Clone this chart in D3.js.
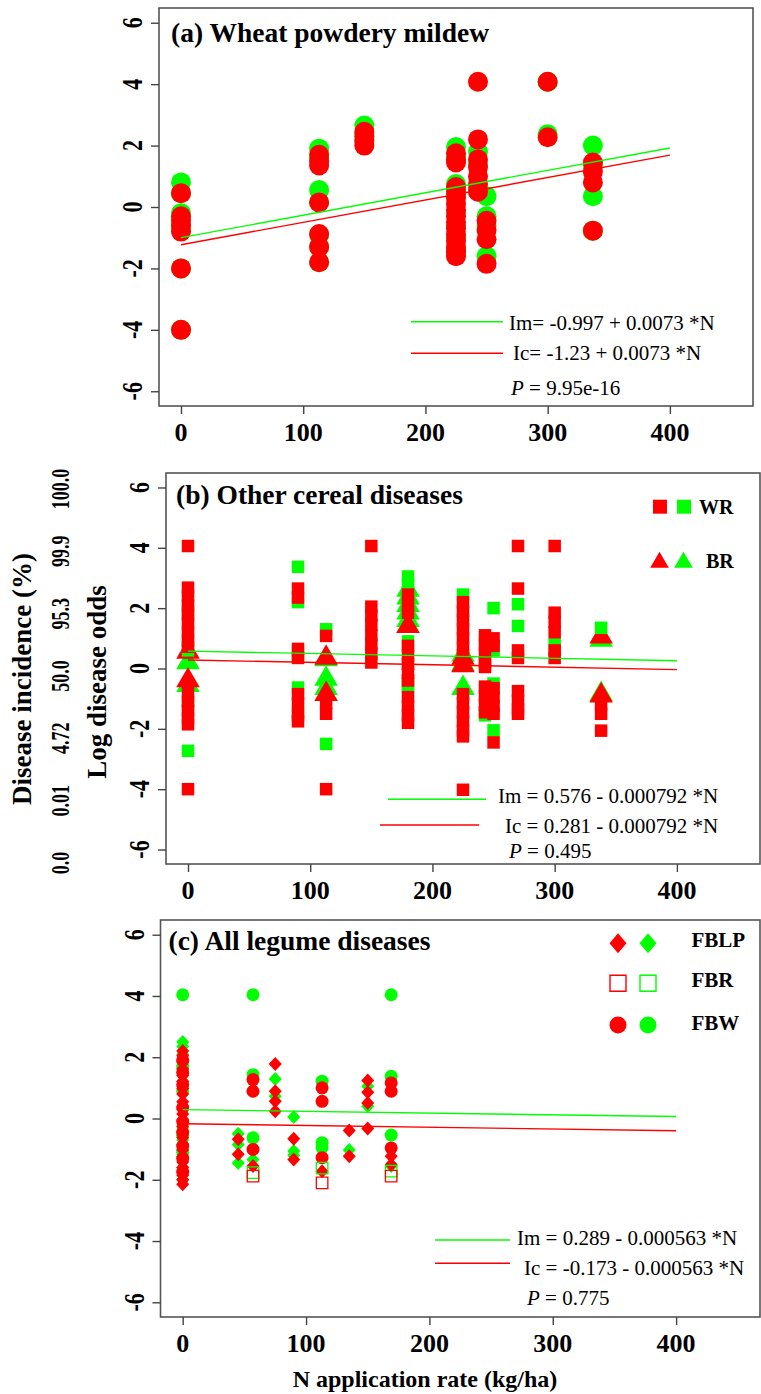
<!DOCTYPE html>
<html>
<head>
<meta charset="utf-8">
<script src="https://cdn.jsdelivr.net/npm/d3@7"></script>
<style>
  body { margin: 0; background: #fff; }
  svg { display: block; font-family: "Liberation Serif", "Times New Roman", serif; }
</style>
</head>
<body>
<div id="chart"></div>
<script>

// tick values shared by all three panels
const xTicks = [0, 100, 200, 300, 400]
const yTicks = [-6, -4, -2, 0, 2, 4, 6]
const incidenceLabels = ["0.0", "0.01", "4.72", "50.0", "95.3", "99.9", "100.0"]

// (a) wheat powdery mildew: [N, [log odds...]]
const wheatIm = [
  [0, [0.8, 0.45, -0.2, -0.6, -0.75, -2.0, -4.0]],
  [113, [1.9, 1.6, 0.55, 0.15, -0.9, -1.3, -1.8]],
  [150, [2.65, 2.4, 2.2]],
  [225, [1.95, 1.6, 0.75, 0.4, -0.2, -0.6, -1.0, -1.4]],
  [243, [1.8, 1.4, 0.6]],
  [250, [0.35, -0.3, -0.6, -1.6]],
  [300, [4.08, 2.37]],
  [337, [2.0, 1.35, 0.35, -0.77]]
]
const wheatIc = [
  [0, [0.45, -0.3, -0.45, -0.6, -0.8, -2.0, -4.0]],
  [113, [1.7, 1.5, 1.35, 0.15, -0.88, -1.3, -1.8]],
  [150, [2.45, 2.3, 2.15, 2.0]],
  [225, [1.75, 1.55, 1.45, 0.65, 0.5, 0.3, 0.1, -0.1, -0.3, -0.5, -0.7, -0.9, -1.1, -1.3, -1.45, -1.6]],
  [243, [4.08, 2.2, 1.55, 1.3, 1.0, 0.75, 0.5]],
  [250, [-0.45, -0.75, -1.05, -1.85]],
  [300, [4.08, 2.27]],
  [337, [1.45, 1.15, 0.8, -0.77]]
]

// (b) other cereal diseases
const wrIm = [
  [0, [1.9, 0.6, -1.2, -2.73]],
  [90, [3.37, 2.2, 0.5, -0.63, -1.45]],
  [113, [1.3, -2.5]],
  [180, [3.05, 2.8, 2.5, 0.9, -0.5, -0.6]],
  [225, [2.45]],
  [243, [-1.55]],
  [250, [2.0, 0.6, -0.5, -2.05]],
  [270, [2.13, 1.41]],
  [300, [0.8]],
  [338, [1.35]]
]
const wrIc = [
  [0, [4.06, 2.68, 2.4, 2.1, 1.78, 1.5, 1.2, 0.93, 0.72, -0.8, -1.1, -1.4, -1.65, -1.85, -4.0]],
  [90, [2.65, 2.35, 0.65, 0.35, -0.85, -1.15, -1.55, -1.75]],
  [113, [1.08, -1.15, -1.5, -4.0]],
  [150, [4.06, 2.05, 1.75, 1.45, 1.1, 0.8, 0.5, 0.2]],
  [180, [2.45, 2.1, 1.85, 0.75, 0.45, 0.15, -0.15, -0.4, -0.95, -1.25, -1.55, -1.8]],
  [225, [2.2, 1.9, 1.6, 1.3, 1.0, 0.7, 0.45, 0.15, -0.85, -1.15, -1.45, -1.75, -2.05, -2.25, -4.02]],
  [243, [1.1, 0.8, 0.5, 0.2, 0.05, -0.6, -0.9, -1.2, -1.45]],
  [250, [1.0, 0.75, -0.65, -0.95, -1.25, -1.5, -2.45]],
  [270, [4.06, 2.65, 0.6, 0.35, -0.75, -1.05, -1.35, -1.5]],
  [300, [4.06, 1.85, 1.55, 1.2, 0.6, 0.35]],
  [338, [-1.2, -1.5, -2.06]]
]
const brIm = [
  [0, [0.2, -0.55]],
  [113, [0.3, -0.35, -0.65]],
  [180, [2.6, 2.35, 2.1, 1.85, 1.6, 1.4]],
  [225, [0.45, 0.15, -0.65]],
  [338, [0.95, -0.85]]
]
const brIc = [
  [0, [0.55, -0.4]],
  [113, [0.35, -0.85]],
  [180, [1.4]],
  [225, [0.35, 0.1]],
  [338, [1.05, -0.9]]
]

// (c) all legume diseases
const fblpIm = [
  [0, [2.5, 2.35, 2.1, 1.2, 0.3, -0.3, -0.7, -1.6, -2.0]],
  [45, [-0.5, -0.85, -1.45]],
  [57, [-1.34]],
  [75, [1.29, 0.73]],
  [90, [0.05, -1.06, -1.2]],
  [135, [-1.03]],
  [150, [1.05, 0.4]],
  [169, [-1.55]]
]
const fblpIc = [
  [0, [2.2, 2.05, 1.85, 1.62, 1.4, 1.22, 0.98, 0.8, 0.55, 0.4, 0.15, -0.05, -0.25, -0.42, -0.62, -0.85, -1.02, -1.25, -1.42, -1.6, -1.85, -2.0, -2.15]],
  [45, [-0.68, -1.17]],
  [57, [-1.55]],
  [75, [1.78, 0.89, 0.56, 0.24]],
  [90, [-0.66, -1.34]],
  [113, [-1.72]],
  [135, [-0.39, -1.23]],
  [150, [1.24, 0.86, 0.51, -0.33]],
  [169, [-1.23, -1.5]]
]
const fbrIm = [[57, [-1.77]], [113, [-1.62]], [169, [-1.72]]]
const fbrIc = [[57, [-1.88]], [113, [-2.1]], [169, [-1.88]]]
const fbwIm = [
  [0, [4.04, 1.7, 0.9, -0.55, -1.1]],
  [57, [4.04, 1.43, -0.63]],
  [113, [1.22, -0.79, -0.95]],
  [169, [4.04, 1.38, -0.54]]
]
const fbwIc = [
  [0, [1.9, 1.5, 1.1, 0.35, -0.1, -0.45, -0.9, -1.3, -1.75]],
  [57, [1.27, 0.89, -1.01]],
  [113, [1.0, 0.56, -1.28]],
  [169, [1.16, 0.89, -0.96]]
]

// fitted lines: [intercept, slope]
const fitA = { im: [-0.997, 0.0073], ic: [-1.23, 0.0073] }
const fitB = { im: [0.576, -0.000792], ic: [0.281, -0.000792] }
const fitC = { im: [0.289, -0.000563], ic: [-0.173, -0.000563] }
const fitRange = [0, 400]

const GREEN = "#00ff00"
const RED = "#ff0000"

const width = 761, height = 1394

const svg = d3.select("#chart").append("svg")
  .attr("width", width)
  .attr("height", height)

function flat(groups) {
  return groups.flatMap(([n, vals]) => vals.map(v => ({ n: n, v: v })))
}

function diamondPath(rx, ry) {
  return `M0,${-ry}L${rx},0L0,${ry}L${-rx},0Z`
}

function makePanel(box) {
  const x = d3.scaleLinear().domain([-18, 468]).range([box.left, box.right])
  const y = d3.scaleLinear().domain([-6.48, 6.48]).range([box.bottom, box.top])
  const g = svg.append("g")

  g.append("rect")
    .attr("x", box.left).attr("y", box.top)
    .attr("width", box.right - box.left).attr("height", box.bottom - box.top)
    .attr("fill", "none").attr("stroke", "#555").attr("stroke-width", 1.6)

  const xAxis = g.append("g")
    .attr("transform", `translate(0,${box.bottom})`)
    .call(d3.axisBottom(x).tickValues(xTicks).tickSize(8).tickFormat(""))
  xAxis.select(".domain").remove()
  xAxis.selectAll("line").attr("stroke", "#444").attr("stroke-width", 1.4)

  g.selectAll(".xlab").data(xTicks).join("text")
    .attr("x", d => x(d)).attr("y", box.bottom + 35)
    .attr("text-anchor", "middle")
    .attr("font-size", 26).attr("font-weight", "bold")
    .text(d => d)

  const yAxis = g.append("g")
    .attr("transform", `translate(${box.left},0)`)
    .call(d3.axisLeft(y).tickValues(yTicks).tickSize(8).tickFormat(""))
  yAxis.select(".domain").remove()
  yAxis.selectAll("line").attr("stroke", "#444").attr("stroke-width", 1.4)

  g.selectAll(".ylab").data(yTicks).join("text")
    .attr("transform", d => `translate(${box.left - 17},${y(d)}) rotate(-90) scale(1,1.3)`)
    .attr("text-anchor", "middle")
    .attr("font-size", 22).attr("font-weight", "bold")
    .text(d => d)

  g.append("text")
    .attr("x", box.left + box.titleDx).attr("y", box.top + box.titleDy)
    .attr("font-size", 27.5).attr("font-weight", "bold")
    .text(box.title)

  return { g, x, y, box }
}

function drawPoints(p, groups, shape, color, open) {
  p.g.append("g").selectAll("path").data(flat(groups)).join("path")
    .attr("transform", d => `translate(${p.x(d.n)},${p.y(d.v)})`)
    .attr("d", shape)
    .attr("fill", open ? "none" : color)
    .attr("stroke", color)
    .attr("stroke-width", open ? 1.3 : 0)
}

function drawFits(p, fit, leg) {
  const line = d3.line().x(d => p.x(d[0])).y(d => p.y(d[1]))
  for (const [key, color] of [["im", GREEN], ["ic", RED]]) {
    const c = fit[key]
    p.g.append("path")
      .attr("d", line(fitRange.map(n => [n, c[0] + c[1] * n])))
      .attr("stroke", color).attr("stroke-width", 1.4).attr("fill", "none")
  }
  // legend for the fitted lines
  const lg = p.g.append("g").attr("font-size", 21)
  leg.lines.forEach((l, i) => {
    lg.append("line")
      .attr("x1", l[0]).attr("x2", l[1]).attr("y1", l[2]).attr("y2", l[2])
      .attr("stroke", i === 0 ? GREEN : RED).attr("stroke-width", 1.4)
  })
  leg.texts.forEach(t => {
    lg.append("text").attr("x", t[0]).attr("y", t[1]).text(t[2])
  })
  const pt = lg.append("text").attr("x", leg.p[0]).attr("y", leg.p[1])
  pt.append("tspan").attr("font-style", "italic").text("P")
  pt.append("tspan").text(" = " + leg.p[2])
}

// ---------- panel a ----------
const pa = makePanel({ left: 159, right: 753, top: 8, bottom: 406, titleDx: 12, titleDy: 33.5,
  title: "(a) Wheat powdery mildew" })
drawPoints(pa, wheatIm, d3.symbol(d3.symbolCircle, Math.PI * 100)(), GREEN)
drawPoints(pa, wheatIc, d3.symbol(d3.symbolCircle, Math.PI * 100)(), RED)
drawFits(pa, fitA, {
  lines: [[411, 503, 321.7], [411, 503, 353.3]],
  texts: [[509, 330, "Im= -0.997 + 0.0073 *N"], [513, 360, "Ic= -1.23 + 0.0073 *N"]],
  p: [511, 395, "9.95e-16"]
})

// ---------- panel b ----------
const pb = makePanel({ left: 166, right: 760, top: 473, bottom: 864, titleDx: 10, titleDy: 30.5,
  title: "(b) Other cereal diseases" })
const sq = d3.symbol(d3.symbolSquare, 12.5 * 12.5)()
const tri = d3.symbol(d3.symbolTriangle, 240)()
// triangles sit underneath the square bars
drawPoints(pb, brIm, tri, GREEN)
drawPoints(pb, brIc, tri, RED)
drawPoints(pb, wrIm, sq, GREEN)
drawPoints(pb, wrIc, sq, RED)
drawFits(pb, fitB, {
  lines: [[388, 486, 799.3], [380, 479, 825]],
  texts: [[498, 803, "Im = 0.576 - 0.000792 *N"], [505, 833, "Ic = 0.281 - 0.000792 *N"]],
  p: [509, 858, "0.495"]
})
// symbol legend
const lb = pb.g.append("g")
const sqL = d3.symbol(d3.symbolSquare, 14 * 14)()
const triL = d3.symbol(d3.symbolTriangle, 150)()
lb.append("path").attr("d", sqL).attr("fill", RED).attr("transform", "translate(660,506.7)")
lb.append("path").attr("d", sqL).attr("fill", GREEN).attr("transform", "translate(684,506.7)")
lb.append("path").attr("d", triL).attr("fill", RED).attr("transform", "translate(659.5,562.5)")
lb.append("path").attr("d", triL).attr("fill", GREEN).attr("transform", "translate(683.5,562.5)")
lb.append("text").attr("x", 699).attr("y", 514).attr("font-size", 20).attr("font-weight", "bold").text("WR")
lb.append("text").attr("x", 706).attr("y", 568).attr("font-size", 20).attr("font-weight", "bold").text("BR")

// side labels for panel b
const incScale = d3.scaleLinear().domain([-6, 6]).range([863, 489])
svg.selectAll(".inc").data(incidenceLabels).join("text")
  .attr("transform", (d, i) => `translate(69,${incScale(yTicks[i])}) rotate(-90) scale(1,1.35)`)
  .attr("text-anchor", "middle")
  .attr("font-size", 18).attr("font-weight", "bold")
  .text(d => d)
svg.append("text")
  .attr("transform", "translate(31,679) rotate(-90)")
  .attr("text-anchor", "middle").attr("font-size", 27).attr("font-weight", "bold")
  .text("Disease incidence (%)")
svg.append("text")
  .attr("transform", "translate(106,682) rotate(-90)")
  .attr("text-anchor", "middle").attr("font-size", 27).attr("font-weight", "bold")
  .text("Log disease odds")

// ---------- panel c ----------
const pc = makePanel({ left: 160.5, right: 760, top: 920, bottom: 1317, titleDx: 8, titleDy: 30,
  title: "(c) All legume diseases" })
const circC = d3.symbol(d3.symbolCircle, Math.PI * 6.5 * 6.5)()
const diaC = diamondPath(6.5, 7)
const sqC = d3.symbol(d3.symbolSquare, 11.5 * 11.5)()
drawPoints(pc, fbwIm, circC, GREEN)
drawPoints(pc, fblpIm, diaC, GREEN)
drawPoints(pc, fbwIc, circC, RED)
drawPoints(pc, fblpIc, diaC, RED)
drawPoints(pc, fbrIm, sqC, GREEN, true)
drawPoints(pc, fbrIc, sqC, RED, true)
drawFits(pc, fitC, {
  lines: [[435, 510, 1240], [435, 510, 1263.3]],
  texts: [[517, 1245, "Im = 0.289 - 0.000563 *N"], [524, 1275, "Ic = -0.173 - 0.000563 *N"]],
  p: [527, 1305, "0.775"]
})
const lc = pc.g.append("g")
const legRows = [
  ["FBLP", diamondPath(8.5, 10), false, 943.3, 947],
  ["FBR", d3.symbol(d3.symbolSquare, 16 * 16)(), true, 983.3, 986.7],
  ["FBW", d3.symbol(d3.symbolCircle, Math.PI * 8.5 * 8.5)(), false, 1025, 1030]
]
legRows.forEach(r => {
  [[618, RED], [648, GREEN]].forEach(([cx, col]) => {
    lc.append("path").attr("d", r[1])
      .attr("transform", `translate(${cx},${r[3]})`)
      .attr("fill", r[2] ? "none" : col)
      .attr("stroke", col).attr("stroke-width", r[2] ? 1.4 : 0)
  })
  lc.append("text").attr("x", 691.5).attr("y", r[4])
    .attr("font-size", 21).attr("font-weight", "bold").text(r[0])
})

svg.append("text")
  .attr("x", 425).attr("y", 1387)
  .attr("text-anchor", "middle").attr("font-size", 24).attr("font-weight", "bold")
  .text("N application rate (kg/ha)")

</script>
</body>
</html>
